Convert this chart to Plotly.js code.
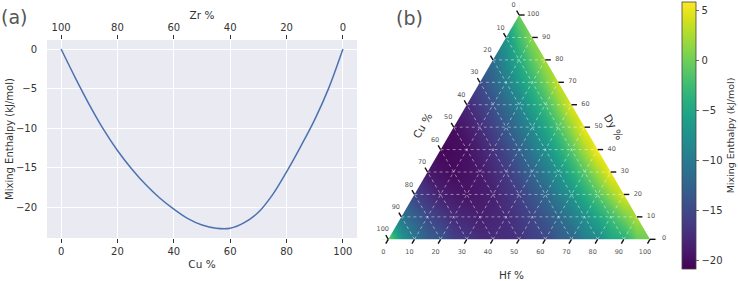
<!DOCTYPE html>
<html>
<head>
<meta charset="utf-8">
<script src="https://cdn.plot.ly/plotly-3.0.1.min.js"></script>
<style>html,body{margin:0;padding:0;background:#fff;}#chart{width:738px;height:281px;}</style>
</head>
<body>
<div id="chart"></div>
<script>
// ---------- Panel (a): Cu–Zr binary ----------
const cuPct = [0,5,10,15,20,25,30,35,40,45,50,55,60,65,70,75,80,85,90,95,100];
const mixEnthalpyCuZr = [0,-3.6,-7.0,-10.1,-12.8,-15.1,-17.1,-18.8,-20.2,-21.4,-22.2,-22.6,-22.6,-21.9,-20.6,-18.4,-15.5,-12.3,-8.9,-4.9,0];
const cuTicks = [0,20,40,60,80,100];
const zrTicks = [0,20,40,60,80,100];
const enthalpyTicksA = [-20,-15,-10,-5,0];

// ---------- Panel (b): Cu–Hf–Dy ternary ----------
const ternLevels = [0,10,20,30,40,50,60,70,80,90,100];   // Dy % of each row, and tick levels
// mixing enthalpy (kJ/mol) at grid nodes; each row = fixed Dy %, entries for Hf = 0,10,20,... (Cu = rest)
const enthalpyDy0   = [0,-10.0,-13.5,-16.4,-17.5,-17.0,-15.1,-12.2,-8.5,-4.3,0];
const enthalpyDy10  = [-10.5,-14.8,-17.6,-18.5,-17.6,-15.3,-11.8,-7.4,-2.5,2.7];
const enthalpyDy20  = [-15.5,-18.5,-19.4,-18.4,-15.8,-11.9,-7.0,-1.4,4.6];
const enthalpyDy30  = [-19.2,-20.1,-19.1,-16.4,-12.2,-7.0,-1.0,5.6];
const enthalpyDy40  = [-20.5,-19.7,-17.0,-12.8,-7.4,-1.1,5.9];
const enthalpyDy50  = [-20.0,-17.5,-13.4,-8.0,-1.6,5.6];
const enthalpyDy60  = [-17.9,-14.0,-8.8,-2.3,4.9];
const enthalpyDy70  = [-14.8,-9.5,-3.3,3.9];
const enthalpyDy80  = [-11.2,-4.3,2.6];
const enthalpyDy90  = [-6.8,1.3];
const enthalpyDy100 = [0];
const enthalpyRows = [enthalpyDy0,enthalpyDy10,enthalpyDy20,enthalpyDy30,enthalpyDy40,enthalpyDy50,
                      enthalpyDy60,enthalpyDy70,enthalpyDy80,enthalpyDy90,enthalpyDy100];
const colorbarTicks = [-20,-15,-10,-5,0,5];

// ---------- geometry helpers ----------
const S = Math.sqrt(3)/2;
const toX = (dy, hf) => (hf + dy/2)/100;
const toY = (dy) => dy/100*S;
const W = 738, H = 281;
// panel (b) axes
const bX0 = 370, bX1 = 672;
const bXr = [-0.0699, 1.0841], bYr = [-0.161, 0.924];
const pxX = (bXr[1]-bXr[0])/(bX1-bX0);
const pxY = (bYr[1]-bYr[0])/H;

const FONT = 'DejaVu Sans, sans-serif';
const TXT = '#333333';

// heatmap grid (Cartesian projection of the ternary nodes)
const nRows = enthalpyRows.length, nCols = 2*(nRows-1)+1;
const zGrid = [];
for (let k=0;k<nRows;k++){ const r=[]; for(let c=0;c<nCols;c++) r.push(null); zGrid.push(r); }
enthalpyRows.forEach((row,k)=>{ row.forEach((v,j)=>{ zGrid[k][2*j+k] = v; }); });
const hmX = [], hmY = [];
for (let c=0;c<nCols;c++) hmX.push(c/(nCols-1));
ternLevels.forEach(d=>hmY.push(toY(d)));

// grid lines
const gx=[], gy=[];
ternLevels.slice(1,-1).forEach(t=>{
  gx.push(toX(t,0), toX(t,100-t), null); gy.push(toY(t), toY(t), null);
  gx.push(toX(0,t), toX(100-t,t), null); gy.push(toY(0), toY(100-t), null);
  gx.push(toX(0,100-t), toX(100-t,0), null); gy.push(toY(0), toY(100-t), null);
});

// tick marks & labels
const tx=[], ty=[];
const lbX=[], lbY=[], lbT=[];
ternLevels.forEach(t=>{
  // bottom: Hf
  let x=toX(0,t), y=toY(0);
  tx.push(x, x-2.5*pxX, null); ty.push(y, y-4.3*pxY, null);
  lbX.push(x-5*pxX); lbY.push(y-13*pxY); lbT.push(String(t));
  // left: Cu (point with Cu=t, Hf=0 -> Dy = 100-t)
  x=toX(100-t,0); y=toY(100-t);
  tx.push(x, x-2.5*pxX, null); ty.push(y, y+4.3*pxY, null);
  lbX.push(x-5.5*pxX); lbY.push(y+9.5*pxY); lbT.push(String(t));
  // right: Dy (Cu=0)
  x=toX(t,100-t); y=toY(t);
  tx.push(x, x+5.5*pxX, null); ty.push(y, y, null);
  lbX.push(x+14*pxX); lbY.push(y+0.5*pxY); lbT.push(String(t));
});

const traces = [
  {type:'scatter', mode:'lines', x:cuPct, y:mixEnthalpyCuZr, xaxis:'x', yaxis:'y',
   line:{color:'#4C72B0', width:1.5, shape:'spline', smoothing:1}, hoverinfo:'skip', showlegend:false},
  {type:'scatter', mode:'lines', x:cuPct.map(c=>100-c), y:mixEnthalpyCuZr, xaxis:'x3', yaxis:'y',
   line:{color:'rgba(0,0,0,0)', width:0}, hoverinfo:'skip', showlegend:false},
  {type:'heatmap', x:hmX, y:hmY, z:zGrid, xaxis:'x2', yaxis:'y2', zsmooth:'best', connectgaps:true,
   colorscale:'Viridis', zmin:-20.8, zmax:5.8, hoverinfo:'skip',
   colorbar:{x:681.5/W, xanchor:'left', xpad:0, ypad:0, thickness:13.5, thicknessmode:'pixels',
     len:267, lenmode:'pixels', y:(H-135.5)/H, yanchor:'middle', outlinewidth:0.8, outlinecolor:'#444',
     ticks:'outside', ticklen:3.5, tickwidth:0.8, tickcolor:'#444', tickvals:colorbarTicks,
     tickfont:{family:FONT, size:10, color:TXT},
     title:{text:'Mixing Enthalpy (kJ/mol)', side:'right', font:{family:FONT, size:9.5, color:TXT}}}},
  {type:'scatter', mode:'lines', x:[-0.1,0,0.5,0.5,-0.1], y:[0,0,S,1.0,1.0], fill:'toself', fillcolor:'#ffffff',
   line:{width:0, color:'rgba(0,0,0,0)'}, xaxis:'x2', yaxis:'y2', hoverinfo:'skip', showlegend:false},
  {type:'scatter', mode:'lines', x:[1.1,1,0.5,0.5,1.1], y:[0,0,S,1.0,1.0], fill:'toself', fillcolor:'#ffffff',
   line:{width:0, color:'rgba(0,0,0,0)'}, xaxis:'x2', yaxis:'y2', hoverinfo:'skip', showlegend:false},
  {type:'scatter', mode:'lines', x:[-0.1,1.1,1.1,-0.1], y:[0.0005,0.0005,-0.1,-0.1], fill:'toself', fillcolor:'#ffffff',
   line:{width:0, color:'rgba(0,0,0,0)'}, xaxis:'x2', yaxis:'y2', hoverinfo:'skip', showlegend:false},
  {type:'scatter', mode:'lines', x:gx, y:gy, xaxis:'x2', yaxis:'y2',
   line:{color:'rgba(255,255,255,0.6)', width:0.8, dash:'dot'}, hoverinfo:'skip', showlegend:false},
  {type:'scatter', mode:'lines', x:tx, y:ty, xaxis:'x2', yaxis:'y2',
   line:{color:'#111', width:1.4}, hoverinfo:'skip', showlegend:false, cliponaxis:false},
  {type:'scatter', mode:'text', x:lbX, y:lbY, text:lbT, xaxis:'x2', yaxis:'y2', cliponaxis:false,
   textfont:{family:FONT, size:6.5, color:'#555555'}, hoverinfo:'skip', showlegend:false}
];

const axA = {
  showgrid:true, gridcolor:'#ffffff', gridwidth:1, zeroline:false, showline:false
};
const layout = {
  width:W, height:H, margin:{l:0,r:0,t:0,b:0}, paper_bgcolor:'#ffffff', plot_bgcolor:'#ffffff',
  showlegend:false, font:{family:FONT, color:TXT},
  xaxis: Object.assign({}, axA, {domain:[47/W, 357/W], range:[-5,105], anchor:'y', tickvals:cuTicks,
    ticks:'outside', ticklen:4, tickwidth:1, tickcolor:'#333', tickfont:{size:10, color:TXT},
    title:{text:'Cu %', font:{size:10.5, color:TXT}, standoff:4}}),
  xaxis3: {overlaying:'x', side:'top', anchor:'y', range:[105,-5], tickvals:zrTicks, showgrid:false, zeroline:false,
    showline:false, ticks:'outside', ticklen:4, tickwidth:1, tickcolor:'#333', tickfont:{size:10, color:TXT},
    title:{text:'Zr %', font:{size:10.5, color:TXT}, standoff:0}},
  yaxis: Object.assign({}, axA, {domain:[(H-238)/H, (H-40)/H], range:[-23.84,1.14], anchor:'x', tickvals:enthalpyTicksA,
    ticks:'outside', ticklen:7, tickcolor:'rgba(0,0,0,0)', tickfont:{size:10, color:TXT},
    title:{text:'Mixing Enthalpy (kJ/mol)', font:{size:10, color:TXT}, standoff:0}}),
  xaxis2: {domain:[bX0/W, bX1/W], range:bXr, visible:false, anchor:'y2', fixedrange:true},
  yaxis2: {domain:[0,1], range:bYr, visible:false, anchor:'x2', fixedrange:true},
  shapes:[{type:'rect', xref:'x domain', yref:'y domain', x0:0, x1:1, y0:0, y1:1,
    fillcolor:'#EAEAF2', line:{width:0}, layer:'below'}],
  annotations:[
    {text:'(a)', xref:'paper', yref:'paper', x:13.5/W, y:1-17/H, xanchor:'center', yanchor:'middle', showarrow:false,
     font:{family:FONT, size:19, color:'#555'}},
    {text:'(b)', xref:'paper', yref:'paper', x:409/W, y:1-18/H, xanchor:'center', yanchor:'middle', showarrow:false,
     font:{family:FONT, size:19, color:'#555'}},
    {text:'Hf %', xref:'paper', yref:'paper', x:511/W, y:1-275/H, xanchor:'center', yanchor:'middle', showarrow:false,
     font:{family:FONT, size:10.5, color:TXT}},
    {text:'Cu %', xref:'paper', yref:'paper', x:422/W, y:1-126/H, xanchor:'center', yanchor:'middle', showarrow:false,
     textangle:-60, font:{family:FONT, size:10.5, color:TXT}},
    {text:'Dy %', xref:'paper', yref:'paper', x:614/W, y:1-127/H, xanchor:'center', yanchor:'middle', showarrow:false,
     textangle:60, font:{family:FONT, size:10.5, color:TXT}}
  ]
};

Plotly.newPlot('chart', traces, layout, {staticPlot:true, displayModeBar:false});
</script>
</body>
</html>
